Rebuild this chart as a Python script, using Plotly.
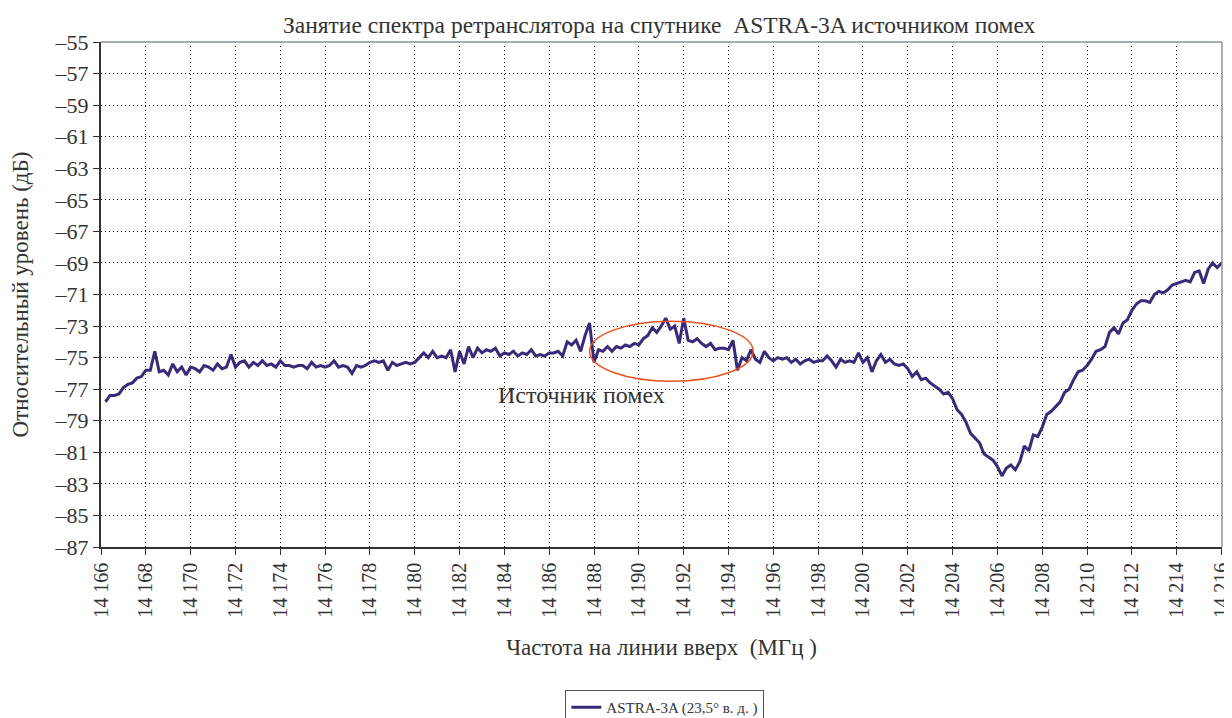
import plotly.graph_objects as go

# ---- data ----
start_freq = 14166.2   # MHz, first sample
freq_step = 0.2        # MHz between samples

level_db = [
    -77.8, -77.4, -77.4, -77.3, -76.9, -76.7, -76.6, -76.3, -76.2, -75.8,
    -75.8, -74.6, -75.9, -75.8, -76.1, -75.4, -75.9, -75.6, -76.1, -75.6,
    -75.7, -75.9, -75.5, -75.6, -75.8, -75.4, -75.7, -75.6, -74.8, -75.6,
    -75.3, -75.2, -75.6, -75.3, -75.5, -75.2, -75.5, -75.4, -75.6, -75.2,
    -75.5, -75.5, -75.6, -75.5, -75.5, -75.7, -75.3, -75.6, -75.5, -75.6,
    -75.5, -75.2, -75.6, -75.5, -75.6, -76.0, -75.5, -75.6, -75.5, -75.3,
    -75.2, -75.3, -75.2, -75.8, -75.3, -75.5, -75.4, -75.3, -75.4, -75.3,
    -75.0, -74.7, -75.0, -74.6, -75.0, -74.9, -75.0, -74.5, -75.9, -74.6,
    -75.4, -74.3, -75.0, -74.4, -74.7, -74.5, -74.6, -74.4, -74.9, -74.7,
    -74.8, -74.6, -74.9, -74.7, -74.8, -74.5, -74.9, -74.8, -74.9, -74.7,
    -74.7, -74.6, -74.9, -74.0, -74.2, -73.9, -74.6, -73.6, -72.8, -75.3,
    -74.5, -74.6, -74.3, -74.6, -74.3, -74.4, -74.2, -74.3, -74.1, -74.2,
    -73.8, -73.6, -73.1, -73.4, -73.0, -72.5, -73.2, -73.0, -74.1, -72.5,
    -73.9, -74.0, -73.8, -74.1, -74.3, -74.1, -74.5, -74.4, -74.4, -74.5,
    -73.9, -75.8, -75.0, -75.2, -74.5, -75.1, -75.3, -74.6, -75.0, -75.2,
    -75.0, -75.1, -75.0, -75.3, -75.1, -75.4, -75.2, -75.1, -75.3, -75.2,
    -75.2, -74.9, -75.2, -75.6, -75.1, -75.3, -75.2, -75.3, -74.7, -75.3,
    -75.0, -75.9, -75.2, -74.8, -75.3, -75.1, -75.4, -75.5, -75.4, -75.7,
    -76.2, -75.9, -76.4, -76.3, -76.6, -76.8, -77.0, -77.3, -77.2, -77.6,
    -78.3, -78.6, -79.1, -79.8, -80.1, -80.4, -81.1, -81.3, -81.5, -81.9,
    -82.5, -82.0, -81.8, -82.1, -81.6, -80.6, -80.9, -79.9, -80.0, -79.4,
    -78.6, -78.4, -78.1, -77.8, -77.2, -77.0, -76.4, -75.9, -75.8, -75.5,
    -75.1, -74.6, -74.5, -74.3, -73.4, -73.1, -73.5, -72.8, -72.6, -72.0,
    -71.6, -71.4, -71.4, -71.5, -71.0, -70.8, -70.9, -70.7, -70.4, -70.3,
    -70.2, -70.1, -70.2, -69.6, -69.5, -70.3, -69.4, -69.0, -69.3, -69.0,
]
freq_mhz = [round(start_freq + freq_step * i, 1) for i in range(len(level_db))]

x_tick_vals = list(range(14166, 14217, 2))
x_tick_text = ["14 " + str(v)[2:] for v in x_tick_vals]
y_tick_vals = list(range(-55, -88, -2))
y_tick_text = ["\u2013" + str(abs(v)) for v in y_tick_vals]

NB = "\u00a0"
series_name = "ASTRA-3A (23,5° в. д. )"
title_text = "Занятие спектра ретранслятора на спутнике " + NB + "ASTRA-3A источником помех"
x_title = "Частота на линии вверх " + NB + "(МГц )"
y_title = "Относительный уровень (дБ)"
note_text = "Источник помех"

# interference region marked by the ellipse (MHz, dB)
region_f = [14187.8, 14195.1]
region_db = [-76.5, -72.7]

FONT = "Liberation Serif"
TXT = "#333333"

fig = go.Figure()
fig.add_trace(go.Scatter(
    x=freq_mhz, y=level_db, mode="lines", name=series_name,
    line=dict(color="#3a2a78", width=3),
    showlegend=True,
))

fig.add_shape(type="circle", xref="x", yref="y",
              x0=region_f[0], x1=region_f[1], y0=region_db[0], y1=region_db[1],
              line=dict(color="#e8501e", width=1.5))
fig.add_annotation(x=14187.45, y=-77.35, xref="x", yref="y", text=note_text,
                   showarrow=False, xanchor="center", yanchor="middle",
                   font=dict(family=FONT, size=24, color=TXT))

# light top/right frame
fig.add_shape(type="line", xref="paper", yref="paper", x0=0, x1=1, y0=1, y1=1,
              line=dict(color="#8a929c", width=1.5))
fig.add_shape(type="line", xref="paper", yref="paper", x0=1, x1=1, y0=0, y1=1,
              line=dict(color="#8a929c", width=1.5))

fig.update_layout(
    width=1224, height=710,
    margin=dict(l=93, r=10, t=34, b=171, autoexpand=False),
    paper_bgcolor="white", plot_bgcolor="white",
    font=dict(family=FONT, size=20, color=TXT),
    title=dict(text=title_text, x=0.532, xanchor="center", y=0.976, yanchor="middle",
               font=dict(family=FONT, size=23.5, color=TXT)),
    legend=dict(orientation="h", x=0.503, xanchor="center", y=-0.283, yanchor="top",
                bordercolor="#555", borderwidth=1,
                font=dict(family=FONT, size=15, color=TXT),
                itemwidth=30),
    showlegend=True,
)
fig.update_xaxes(
    range=[14166, 14216.02], tickvals=x_tick_vals, ticktext=x_tick_text,
    tickangle=-90, tickfont=dict(family=FONT, size=20, color=TXT),
    ticklabeloverflow="allow",
    showgrid=True, gridcolor="black", griddash="1px,3px", gridwidth=1,
    showline=True, linecolor="#333", linewidth=1.5,
    ticks="outside", ticklen=6, tickcolor="#333",
    zeroline=False, automargin=False,
    title=dict(text=x_title, font=dict(family=FONT, size=23, color=TXT), standoff=22),
)
fig.update_yaxes(
    range=[-87, -55], tickvals=y_tick_vals, ticktext=y_tick_text,
    tickfont=dict(family=FONT, size=22, color=TXT),
    showgrid=True, gridcolor="black", griddash="1px,3px", gridwidth=1,
    showline=True, linecolor="#333", linewidth=2,
    ticks="outside", ticklen=6, tickcolor="#333",
    zeroline=False, automargin=False,
    title=dict(text=y_title, font=dict(family=FONT, size=23, color=TXT), standoff=20),
)

fig.write_html("out.html")
